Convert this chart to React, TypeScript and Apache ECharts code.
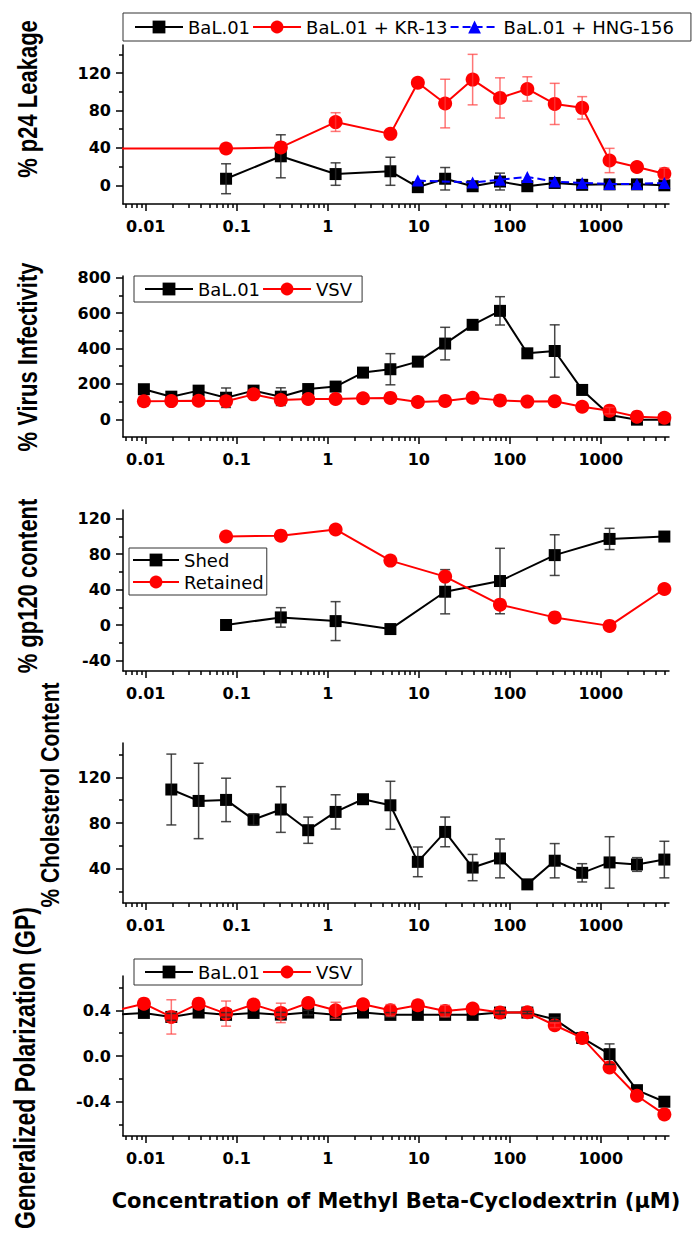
import React, { useEffect, useRef } from "react";
import * as echarts from "echarts";

// ---------- axis tick values ----------
const X_MIN = 0.0056234;
const X_MAX = 5623.4;
const xMajorTicks = [0.01, 0.1, 1, 10, 100, 1000];
const xMinorTicks = [
  0.006, 0.007, 0.008, 0.009,
  0.02, 0.03, 0.04, 0.05, 0.06, 0.07, 0.08, 0.09,
  0.2, 0.3, 0.4, 0.5, 0.6, 0.7, 0.8, 0.9,
  2, 3, 4, 5, 6, 7, 8, 9,
  20, 30, 40, 50, 60, 70, 80, 90,
  200, 300, 400, 500, 600, 700, 800, 900,
  2000, 3000, 4000, 5000,
];

// ---------- Panel 1: % p24 Leakage ----------
const p24BalX = [0.0763, 0.305, 1.22, 4.88, 9.77, 19.5, 39.1, 78.1, 156, 312, 625, 1250, 2500, 5000];
const p24BalY = [7, 31, 12, 15, -2, 7, -1, 4, -1, 2.5, 0.5, 1, 1, 0];
const p24BalErr = [16, 23, 12, 15, 0, 12, 0, 9, 0, 0, 0, 0, 0, 0];
const p24KrX = [0.001, 0.0763, 0.305, 1.22, 4.88, 9.77, 19.5, 39.1, 78.1, 156, 312, 625, 1250, 2500, 5000];
const p24KrY = [39.5, 39.3, 40.5, 67.6, 55, 109.7, 87.4, 113, 93.4, 103, 87, 82.8, 26.5, 19.5, 12.4];
const p24KrErr = [0, 0, 0, 10, 0, 0, 26, 27, 21.5, 13, 22, 12, 13, 0, 6];
const p24HngX = [9.77, 39.1, 78.1, 156, 312, 625, 1250, 2500, 5000];
const p24HngY = [5, 3, 6, 9, 4, 2.5, 1.5, 1.5, 2.5];
const p24Major = [0, 40, 80, 120];
const p24Minor = [20, 60, 100, 140];

// ---------- Panel 2: % Virus Infectivity ----------
const infX = [0.00954, 0.0191, 0.0381, 0.0763, 0.153, 0.305, 0.61, 1.22, 2.44, 4.88, 9.77, 19.5, 39.1, 78.1, 156, 312, 625, 1250, 2500, 5000];
const infBalY = [170, 128, 162, 122, 162, 128, 171, 185, 264, 283, 326, 428, 534, 613, 373, 386, 166, 24, -2, -2];
const infBalErr = [0, 0, 0, 55, 0, 50, 0, 0, 0, 88, 0, 92, 0, 80, 0, 148, 0, 0, 0, 0];
const infVsvY = [102, 103, 105, 102, 141, 109, 115, 115, 119, 121, 98, 104, 122, 107, 100, 102, 71, 49, 15, 9];
const infVsvErr = [0, 0, 0, 0, 0, 0, 0, 0, 0, 0, 0, 0, 0, 0, 0, 0, 0, 18, 0, 0];
const infMajor = [0, 200, 400, 600, 800];
const infMinor = [100, 300, 500, 700];

// ---------- Panel 3: % gp120 content ----------
const gpX = [0.0763, 0.305, 1.22, 4.88, 19.5, 78.1, 312, 1250, 5000];
const gpShedY = [0, 8.6, 4.4, -4.6, 37.6, 49.7, 79, 97.3, 100];
const gpShedErr = [0, 11, 22, 0, 25, 37, 23, 12, 0];
const gpRetY = [100, 101, 108, 72.8, 54.7, 23, 8.6, -1, 40.7];
const gpMajor = [-40, 0, 40, 80, 120];
const gpMinor = [-20, 20, 60, 100];

// ---------- Panel 4: % Cholesterol Content ----------
const cholX = [0.0191, 0.0381, 0.0763, 0.153, 0.305, 0.61, 1.22, 2.44, 4.88, 9.77, 19.5, 39.1, 78.1, 156, 312, 625, 1250, 2500, 5000];
const cholY = [109.3, 99.3, 100.2, 83, 91.8, 73.7, 89.7, 100.8, 95.5, 46, 72.2, 41, 49, 26.3, 47, 36.4, 45.5, 43.7, 48];
const cholErr = [31, 33, 19, 5, 20, 11.5, 15, 0, 21, 13, 13, 11.5, 17, 0, 15, 8, 22.5, 6, 16];
const cholMajor = [40, 80, 120];
const cholMinor = [20, 60, 100, 140];

// ---------- Panel 5: Generalized Polarization ----------
const gpolX = [0.00477, 0.00954, 0.0191, 0.0381, 0.0763, 0.153, 0.305, 0.61, 1.22, 2.44, 4.88, 9.77, 19.5, 39.1, 78.1, 156, 312, 625, 1250, 2500, 5000];
const gpolBalY = [0.362, 0.377, 0.342, 0.38, 0.36, 0.377, 0.362, 0.38, 0.36, 0.38, 0.36, 0.36, 0.36, 0.36, 0.38, 0.38, 0.321, 0.158, 0.016, -0.299, -0.4];
const gpolBalErr = [0, 0, 0.03, 0, 0.02, 0, 0.02, 0.02, 0, 0, 0.02, 0, 0.02, 0, 0.015, 0.01, 0.015, 0, 0.09, 0, 0];
const gpolVsvY = [0.4, 0.458, 0.342, 0.458, 0.371, 0.45, 0.377, 0.464, 0.4, 0.452, 0.4, 0.444, 0.394, 0.415, 0.38, 0.383, 0.269, 0.158, -0.1, -0.348, -0.511];
const gpolVsvErr = [0, 0, 0.15, 0, 0.11, 0, 0.085, 0, 0.07, 0, 0.05, 0, 0.05, 0, 0, 0, 0.02, 0, 0, 0, 0];
const gpolMajor = [-0.4, 0, 0.4];
const gpolMinor = [-0.6, -0.2, 0.2, 0.6];

const xTitle = "Concentration of Methyl Beta-Cyclodextrin (\u03bcM)";
const yTitles = [
  { text: "% p24 Leakage", x: 27, y: 99, size: 22 },
  { text: "% Virus Infectivity", x: 27, y: 357, size: 22 },
  { text: "% gp120 content", x: 27, y: 586, size: 22 },
  { text: "% Cholesterol Content", x: 50, y: 795, size: 21 },
  { text: "Generalized Polarization (GP)", x: 25, y: 1068, size: 23 },
];

const BLACK = "#000000";
const RED = "#ff0000";
const BLUE = "#0000ff";
const ERR_BLACK = "rgba(40,40,40,0.85)";
const ERR_RED = "rgba(255,60,60,0.7)";
const LABEL_FONT = "DejaVu Sans";

function pts(xs: number[], ys: number[]) {
  return xs.map((x, i) => [x, ys[i]]);
}
function errData(xs: number[], ys: number[], es: number[]) {
  const out: number[][] = [];
  for (let i = 0; i < xs.length; i++) {
    if (es[i] > 0) out.push([xs[i], ys[i] - es[i], ys[i] + es[i]]);
  }
  return out;
}
function fmtX(v: any) {
  return String(Number(Number(v).toPrecision(6)));
}

const panels = [
  { top: 45, height: 159, min: -20, max: 150, major: p24Major, minor: p24Minor, dec: 0 },
  { top: 276, height: 161, min: -100, max: 810, major: infMajor, minor: infMinor, dec: 0 },
  { top: 510, height: 161, min: -52, max: 130, major: gpMajor, minor: gpMinor, dec: 0 },
  { top: 743, height: 160, min: 10, max: 150, major: cholMajor, minor: cholMinor, dec: 0 },
  { top: 976, height: 160, min: -0.7, max: 0.7, major: gpolMajor, minor: gpolMinor, dec: 1 },
];

const axisLineStyle = { color: "#000", width: 1.5 };

function lineSeries(name: string, gi: number, data: any[], color: string, symbol: string, size: number, z: number, dashed = false) {
  return {
    type: "line",
    name,
    xAxisIndex: 2 * gi,
    yAxisIndex: 2 * gi,
    data,
    symbol,
    symbolSize: size,
    showSymbol: true,
    clip: true,
    z,
    color,
    itemStyle: { color, borderWidth: 0 },
    lineStyle: { color, width: 2, type: dashed ? [8, 4] : "solid" },
    emphasis: { disabled: true },
    animation: false,
  };
}

function errSeries(name: string, gi: number, data: number[][], color: string, z: number) {
  return {
    type: "custom",
    name,
    xAxisIndex: 2 * gi,
    yAxisIndex: 2 * gi,
    data,
    z,
    silent: true,
    encode: { x: 0, y: [1, 2] },
    renderItem: (params: any, api: any) => {
      const x = api.value(0);
      const top = api.coord([x, api.value(2)]);
      const bot = api.coord([x, api.value(1)]);
      const w = 5;
      const style = { stroke: color, lineWidth: 1.5, fill: null };
      return {
        type: "group",
        children: [
          { type: "line", shape: { x1: top[0], y1: top[1], x2: bot[0], y2: bot[1] }, style },
          { type: "line", shape: { x1: top[0] - w, y1: top[1], x2: top[0] + w, y2: top[1] }, style },
          { type: "line", shape: { x1: bot[0] - w, y1: bot[1], x2: bot[0] + w, y2: bot[1] }, style },
        ],
      };
    },
  };
}

function buildOption() {
  const grid = panels.map((p) => ({ left: 123, width: 546, top: p.top, height: p.height }));
  const xAxis: any[] = [];
  const yAxis: any[] = [];
  panels.forEach((p, i) => {
    const last = i === panels.length - 1;
    xAxis.push({
      type: "log",
      logBase: 10,
      gridIndex: i,
      position: "bottom",
      min: X_MIN,
      max: X_MAX,
      axisLine: { show: true, onZero: false, lineStyle: axisLineStyle },
      axisTick: { show: true, length: 4, lineStyle: axisLineStyle, customValues: xMinorTicks },
      axisLabel: { show: false },
      splitLine: { show: false },
    });
    xAxis.push({
      type: "log",
      logBase: 10,
      gridIndex: i,
      position: "bottom",
      min: X_MIN,
      max: X_MAX,
      axisLine: { show: false, onZero: false },
      axisTick: { show: true, length: 7, lineStyle: axisLineStyle, customValues: xMajorTicks },
      axisLabel: {
        show: true,
        customValues: xMajorTicks,
        formatter: fmtX,
        margin: 14,
        color: "#000",
        fontFamily: LABEL_FONT,
        fontWeight: "bold",
        fontSize: 16,
      },
      splitLine: { show: false },
      name: last ? xTitle : "",
      nameLocation: "middle",
      nameGap: 54,
      nameTextStyle: { color: "#000", fontFamily: LABEL_FONT, fontWeight: "bold", fontSize: 21 },
    });
    yAxis.push({
      type: "value",
      gridIndex: i,
      position: "left",
      min: p.min,
      max: p.max,
      axisLine: { show: true, onZero: false, lineStyle: axisLineStyle },
      axisTick: { show: true, length: 4, lineStyle: axisLineStyle, customValues: p.minor },
      axisLabel: { show: false },
      splitLine: { show: false },
    });
    yAxis.push({
      type: "value",
      gridIndex: i,
      position: "left",
      min: p.min,
      max: p.max,
      axisLine: { show: false, onZero: false },
      axisTick: { show: true, length: 7, lineStyle: axisLineStyle, customValues: p.major },
      axisLabel: {
        show: true,
        customValues: p.major,
        formatter: (v: any) => Number(v).toFixed(p.dec),
        margin: 12,
        color: "#000",
        fontFamily: LABEL_FONT,
        fontWeight: "bold",
        fontSize: 16,
      },
      splitLine: { show: false },
    });
  });

  const series: any[] = [
    // Panel 1
    lineSeries("BaL.01", 0, pts(p24BalX, p24BalY), BLACK, "rect", 12, 2),
    errSeries("err-p24-bal", 0, errData(p24BalX, p24BalY, p24BalErr), ERR_BLACK, 3),
    lineSeries("BaL.01 + KR-13", 0, pts(p24KrX, p24KrY), RED, "circle", 14, 4),
    errSeries("err-p24-kr", 0, errData(p24KrX, p24KrY, p24KrErr), ERR_RED, 5),
    lineSeries("BaL.01 + HNG-156", 0, pts(p24HngX, p24HngY), BLUE, "triangle", 12, 6, true),
    // Panel 2
    lineSeries("BaL.01", 1, pts(infX, infBalY), BLACK, "rect", 12, 2),
    errSeries("err-inf-bal", 1, errData(infX, infBalY, infBalErr), ERR_BLACK, 3),
    lineSeries("VSV", 1, pts(infX, infVsvY), RED, "circle", 14, 4),
    errSeries("err-inf-vsv", 1, errData(infX, infVsvY, infVsvErr), ERR_RED, 5),
    // Panel 3
    lineSeries("Shed", 2, pts(gpX, gpShedY), BLACK, "rect", 12, 2),
    errSeries("err-gp-shed", 2, errData(gpX, gpShedY, gpShedErr), ERR_BLACK, 3),
    lineSeries("Retained", 2, pts(gpX, gpRetY), RED, "circle", 14, 4),
    // Panel 4
    lineSeries("Cholesterol", 3, pts(cholX, cholY), BLACK, "rect", 12, 2),
    errSeries("err-chol", 3, errData(cholX, cholY, cholErr), ERR_BLACK, 3),
    // Panel 5
    lineSeries("BaL.01", 4, pts(gpolX, gpolBalY), BLACK, "rect", 12, 2),
    lineSeries("VSV", 4, pts(gpolX, gpolVsvY), RED, "circle", 14, 3),
    errSeries("err-gpol-bal", 4, errData(gpolX, gpolBalY, gpolBalErr), ERR_BLACK, 4),
    errSeries("err-gpol-vsv", 4, errData(gpolX, gpolVsvY, gpolVsvErr), ERR_RED, 5),
  ];

  const legendBase = {
    orient: "horizontal",
    itemWidth: 48,
    itemHeight: 16,
    itemGap: 2,
    borderColor: "#333",
    borderWidth: 1,
    borderRadius: 0,
    selectedMode: false,
    textStyle: { fontFamily: LABEL_FONT, fontSize: 18, color: "#000" },
  };
  const legend = [
    { ...legendBase, data: ["BaL.01", "BaL.01 + KR-13", "BaL.01 + HNG-156"], left: 123, top: 13, padding: [5, 17, 5, 11] },
    { ...legendBase, data: ["BaL.01", "VSV"], left: 134, top: 276, padding: [4, 10, 4, 10] },
    { ...legendBase, data: ["Shed", "Retained"], left: 129, top: 548, orient: "vertical", itemWidth: 46, itemGap: 4, padding: [3, 3, 4, 3] },
    { ...legendBase, data: ["BaL.01", "VSV"], left: 134, top: 959, padding: [4, 10, 4, 10] },
  ];

  const graphic = yTitles.map((t) => ({
    type: "text",
    x: t.x,
    y: t.y,
    rotation: Math.PI / 2,
    scaleX: 1,
    scaleY: 1.25,
    silent: true,
    style: {
      text: t.text,
      fill: "#000",
      font: `bold ${t.size}px "Liberation Sans", Arial, sans-serif`,
      align: "center",
      verticalAlign: "middle",
      textAlign: "center",
      textVerticalAlign: "middle",
    },
  }));

  return {
    animation: false,
    backgroundColor: "#ffffff",
    textStyle: { fontFamily: LABEL_FONT },
    grid,
    xAxis,
    yAxis,
    legend,
    series,
    graphic,
  };
}

export default function App() {
  const ref = useRef<HTMLDivElement>(null);
  useEffect(() => {
    if (!ref.current) return;
    const chart = echarts.init(ref.current, undefined, { renderer: "svg" });
    chart.setOption(buildOption() as any);
    return () => chart.dispose();
  }, []);
  return (
    <div
      ref={ref}
      style={{ position: "absolute", left: 0, top: 0, width: 693, height: 1249, background: "#fff" }}
    />
  );
}
